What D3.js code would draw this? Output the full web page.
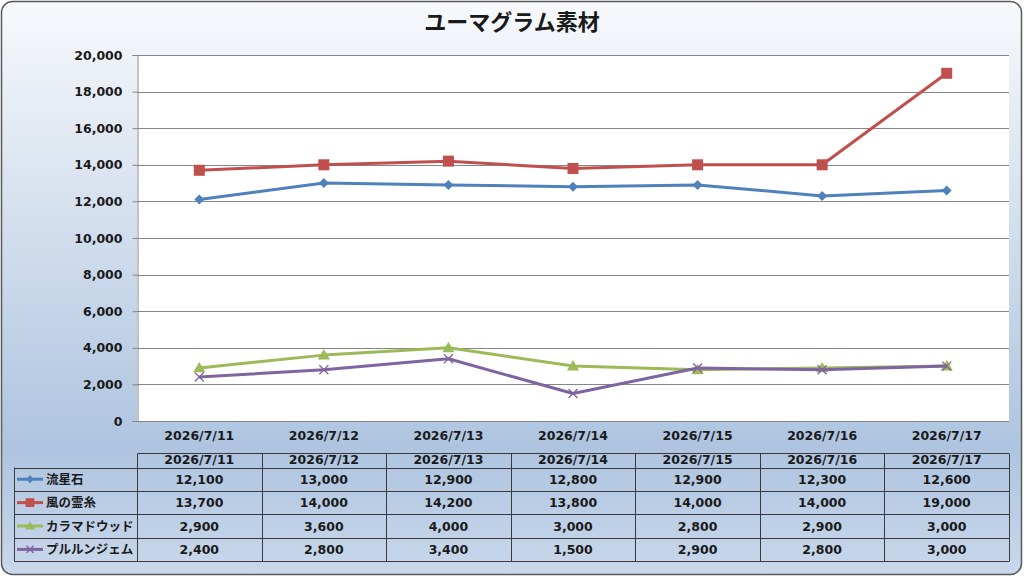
<!DOCTYPE html>
<html>
<head>
<meta charset="utf-8">
<script src="https://cdn.jsdelivr.net/npm/d3@7"></script>
<style>
  body { margin: 0; background: #fff; }
  text { font-family: "DejaVu Sans", "Noto Sans CJK JP", sans-serif; fill: #1a1a1a; }
</style>
</head>
<body>
<script>
const categories = ["2026/7/11", "2026/7/12", "2026/7/13", "2026/7/14", "2026/7/15", "2026/7/16", "2026/7/17"];
const seriesNames = ["流星石", "風の霊糸", "カラマドウッド", "プルルンジェム"];
const ryuseiseki = [12100, 13000, 12900, 12800, 12900, 12300, 12600];
const kazeReishi = [13700, 14000, 14200, 13800, 14000, 14000, 19000];
const karamaWood = [2900, 3600, 4000, 3000, 2800, 2900, 3000];
const pururunGem = [2400, 2800, 3400, 1500, 2900, 2800, 3000];
const yTicks = [0, 2000, 4000, 6000, 8000, 10000, 12000, 14000, 16000, 18000, 20000];

const seriesValues = [ryuseiseki, kazeReishi, karamaWood, pururunGem];
const colors = ["#4f81bd", "#c0504d", "#9bbb59", "#8064a2"];
const markers = ["diamond", "square", "triangle", "x"];

const W = 1024, H = 576;
const plot = { left: 137, right: 1009, top: 55, bottom: 421 };

const svg = d3.select("body").append("svg")
  .attr("width", W)
  .attr("height", H);

// background gradient
const grad = svg.append("defs").append("linearGradient")
  .attr("id", "bg")
  .attr("x1", 0).attr("y1", 0).attr("x2", 0).attr("y2", 1);
grad.append("stop").attr("offset", "0").attr("stop-color", "#f7f9fc");
grad.append("stop").attr("offset", "0.22").attr("stop-color", "#e3eaf3");
grad.append("stop").attr("offset", "0.78").attr("stop-color", "#aec4e0");
grad.append("stop").attr("offset", "1").attr("stop-color", "#c9d8eb");

svg.append("rect")
  .attr("x", 1.5).attr("y", 1.5)
  .attr("width", 1020).attr("height", 573)
  .attr("rx", 11)
  .attr("fill", "url(#bg)")
  .attr("stroke", "#5a5a5a")
  .attr("stroke-width", 1.5);

// title
svg.append("text")
  .attr("x", 512)
  .attr("y", 22)
  .attr("dy", "0.36em")
  .attr("text-anchor", "middle")
  .style("font-family", "'Noto Sans CJK JP', sans-serif")
  .style("font-weight", "bold")
  .style("font-size", "22px")
  .text("ユーマグラム素材");

const x = d3.scaleBand()
  .domain(categories)
  .range([plot.left, plot.right]);

const y = d3.scaleLinear()
  .domain([0, 20000])
  .range([plot.bottom, plot.top]);

// plot area
svg.append("rect")
  .attr("x", plot.left).attr("y", plot.top)
  .attr("width", plot.right - plot.left)
  .attr("height", plot.bottom - plot.top)
  .attr("fill", "#fff");

// gridlines
svg.append("g")
  .selectAll("line")
  .data(yTicks)
  .enter().append("line")
  .attr("x1", plot.left).attr("x2", plot.right)
  .attr("y1", d => Math.round(y(d)) + 0.5)
  .attr("y2", d => Math.round(y(d)) + 0.5)
  .attr("stroke", "#868686")
  .attr("stroke-width", 1);

// y axis
const yAxis = svg.append("g")
  .attr("transform", "translate(" + (plot.left + 0.5) + ",0)")
  .call(d3.axisLeft(y).tickValues(yTicks).tickSize(5).tickPadding(10).tickFormat(d3.format(",")));
yAxis.select(".domain").attr("stroke", "#868686");
yAxis.selectAll(".tick line").attr("stroke", "#868686");
yAxis.selectAll("text")
  .style("font-size", "12.5px")
  .style("font-weight", "bold")
  .attr("fill", "#1a1a1a");

// x axis labels
const xAxis = svg.append("g")
  .attr("transform", "translate(0," + plot.bottom + ")")
  .call(d3.axisBottom(x).tickSize(0).tickPadding(10));
xAxis.select(".domain").remove();
xAxis.selectAll("text")
  .style("font-size", "12.5px")
  .style("font-weight", "bold")
  .attr("fill", "#1a1a1a");

// marker drawing
function drawMarker(g, type, color, size) {
  const s = size;
  if (type === "diamond") {
    g.append("path").attr("d", `M0,${-s}L${s},0L0,${s}L${-s},0Z`).attr("fill", color);
  } else if (type === "square") {
    g.append("rect").attr("x", -s).attr("y", -s).attr("width", 2 * s).attr("height", 2 * s).attr("fill", color);
  } else if (type === "triangle") {
    g.append("path").attr("d", `M0,${-s * 1.1}L${s * 1.1},${s * 0.8}L${-s * 1.1},${s * 0.8}Z`).attr("fill", color);
  } else {
    g.append("path").attr("d", `M${-s},${-s}L${s},${s}M${-s},${s}L${s},${-s}`)
      .attr("stroke", color).attr("stroke-width", 1.3).attr("fill", "none");
  }
}
const markerSize = [5, 5.5, 5.5, 4.5];

const line = d3.line()
  .x((d, i) => x(categories[i]) + x.bandwidth() / 2)
  .y(d => y(d));

seriesValues.forEach((vals, si) => {
  svg.append("path")
    .datum(vals)
    .attr("d", line)
    .attr("fill", "none")
    .attr("stroke", colors[si])
    .attr("stroke-width", 3)
    .attr("stroke-linejoin", "round");
  vals.forEach((v, i) => {
    const g = svg.append("g")
      .attr("transform", "translate(" + (x(categories[i]) + x.bandwidth() / 2) + "," + y(v) + ")");
    drawMarker(g, markers[si], colors[si], markerSize[si]);
  });
});

// data table
const table = { left: 14.5, top: 453.5, headBottom: 467.5, rowH: 23.4 };
const tbl = svg.append("g");
const tableBottom = table.headBottom + table.rowH * seriesNames.length;
const lineColor = "#3a3a3a";

// horizontal lines
tbl.append("line")
  .attr("x1", plot.left + 0.5).attr("x2", plot.right)
  .attr("y1", table.top).attr("y2", table.top)
  .attr("stroke", lineColor);
d3.range(seriesNames.length + 1).forEach(r => {
  const yy = Math.round(table.headBottom + r * table.rowH) + 0.5;
  tbl.append("line")
    .attr("x1", table.left).attr("x2", plot.right)
    .attr("y1", yy).attr("y2", yy)
    .attr("stroke", lineColor);
});
// vertical lines
tbl.append("line")
  .attr("x1", table.left).attr("x2", table.left)
  .attr("y1", table.headBottom).attr("y2", Math.round(tableBottom) + 0.5)
  .attr("stroke", lineColor);
categories.concat(["end"]).forEach((c, i) => {
  const xx = Math.round(plot.left + i * x.bandwidth()) + 0.5;
  tbl.append("line")
    .attr("x1", xx).attr("x2", xx)
    .attr("y1", table.top).attr("y2", Math.round(tableBottom) + 0.5)
    .attr("stroke", lineColor);
});

// header texts
tbl.selectAll(".head")
  .data(categories)
  .enter().append("text")
  .attr("x", d => x(d) + x.bandwidth() / 2)
  .attr("y", table.top + 5.5)
  .attr("dy", "0.36em")
  .attr("text-anchor", "middle")
  .style("font-size", "12.5px")
  .style("font-weight", "bold")
  .text(d => d);

seriesNames.forEach((name, si) => {
  const cy = table.headBottom + si * table.rowH + table.rowH / 2;
  // legend key
  tbl.append("line")
    .attr("x1", 17).attr("x2", 43)
    .attr("y1", cy).attr("y2", cy)
    .attr("stroke", colors[si])
    .attr("stroke-width", 3);
  const g = tbl.append("g").attr("transform", "translate(30," + cy + ")");
  drawMarker(g, markers[si], colors[si], markerSize[si] * 0.8);
  tbl.append("text")
    .attr("x", 46)
    .attr("y", cy)
    .attr("dy", "0.36em")
    .style("font-family", "'Noto Sans CJK JP', sans-serif")
    .style("font-size", "12.5px")
    .style("font-weight", "bold")
    .text(name);
  tbl.selectAll(".v" + si)
    .data(seriesValues[si])
    .enter().append("text")
    .attr("x", (d, i) => x(categories[i]) + x.bandwidth() / 2)
    .attr("y", cy)
    .attr("dy", "0.36em")
    .attr("text-anchor", "middle")
    .style("font-size", "12.5px")
    .style("font-weight", "bold")
    .text(d => d3.format(",")(d));
});
</script>
</body>
</html>
